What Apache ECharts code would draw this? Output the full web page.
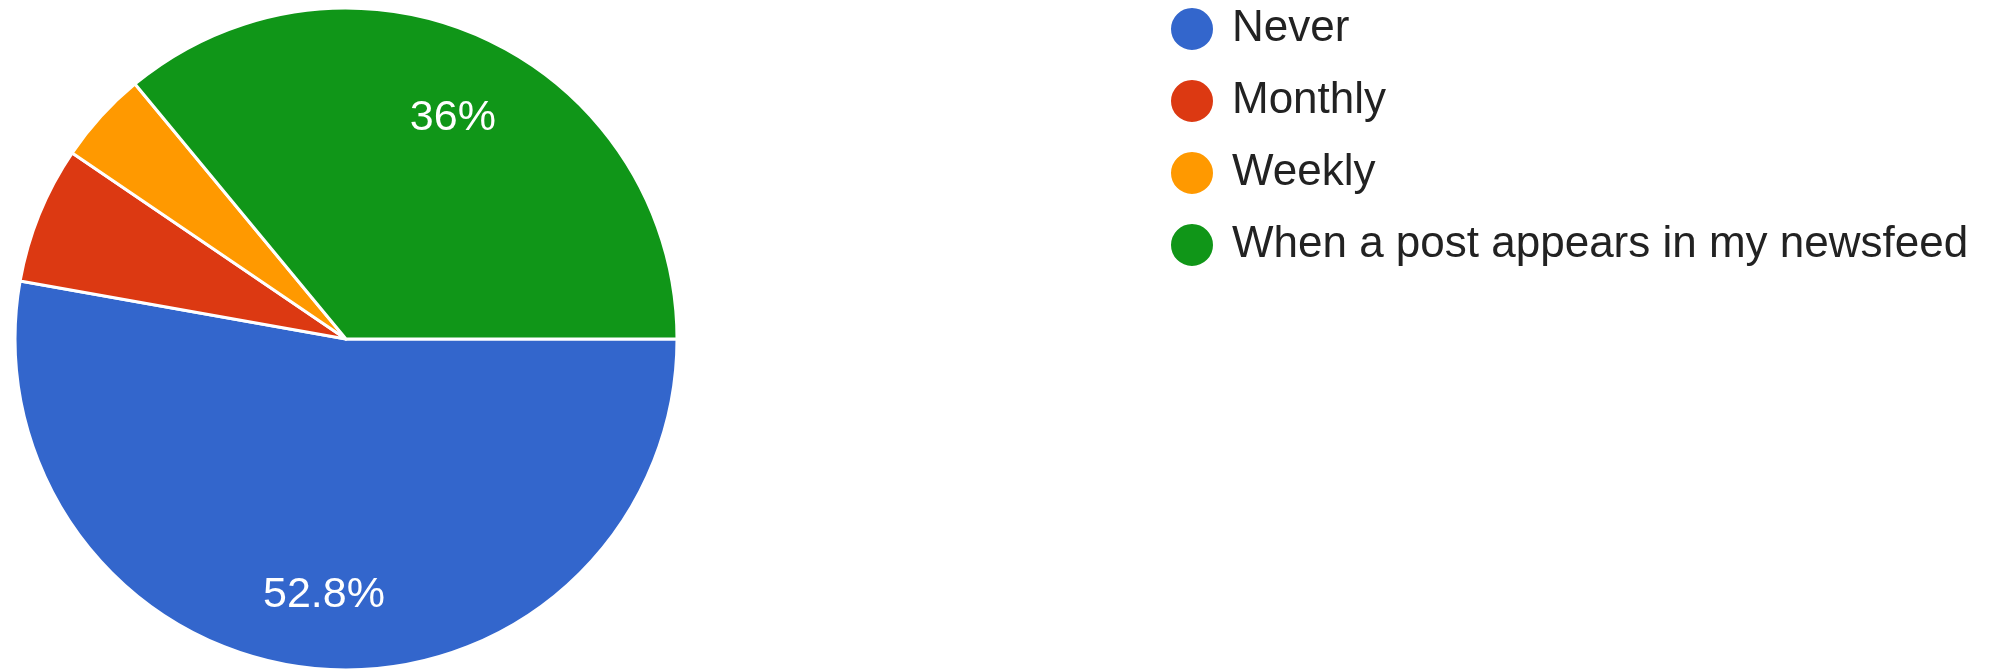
<html>
<head>
  <meta charset="utf-8">
  <title>pie</title>
  <script src="https://cdn.jsdelivr.net/npm/echarts@6/dist/echarts.min.js"></script>
</head>
<body style="margin:0;background:#fff;">
<div id="main" style="width:1997px;height:670px;"></div>
<script>
  var categories = ['Never', 'Monthly', 'Weekly', 'When a post appears in my newsfeed'];
  var values = [52.8, 6.7, 4.5, 36];
  var colors = ['#3366cc', '#dc3912', '#ff9900', '#109618'];

  var pieData = categories.map(function (name, i) {
    return {name: name, value: values[i]};
  });

  var myChart = echarts.init(document.getElementById('main'));
  var font = '"Liberation Sans", Arial, sans-serif';

  option = {
    animation: false,
    color: colors,
    legend: {
      orient: 'vertical',
      left: 1164,
      top: 1,
      icon: 'circle',
      itemWidth: 44,
      itemHeight: 44,
      itemGap: 26,
      selectedMode: false,
      data: categories,
      textStyle: {
        color: '#222',
        fontSize: 44,
        fontFamily: font,
        padding: [0, 0, 0, 13]
      }
    },
    series: [
      {
        name: 'answers',
        type: 'pie',
        center: [346, 339],
        radius: [0, 331],
        startAngle: 0,
        clockwise: true,
        silent: true,
        itemStyle: {borderColor: '#fff', borderWidth: 3},
        label: {show: false},
        labelLine: {show: false},
        emphasis: {disabled: true},
        data: pieData
      },
      {
        // transparent ring so inside labels sit at ~3/4 of the radius
        name: 'labels',
        type: 'pie',
        center: [346, 339],
        radius: [165, 331],
        startAngle: 0,
        clockwise: true,
        silent: true,
        itemStyle: {color: 'rgba(0,0,0,0)', borderWidth: 0},
        label: {
          show: true,
          position: 'inside',
          color: '#fff',
          fontSize: 43,
          fontFamily: font,
          offset: [0, 6],
          formatter: function (p) {
            return p.value >= 10 ? p.value + '%' : '';
          }
        },
        labelLine: {show: false},
        emphasis: {disabled: true},
        data: pieData
      }
    ]
  };

  myChart.setOption(option);
</script>
</body>
</html>
